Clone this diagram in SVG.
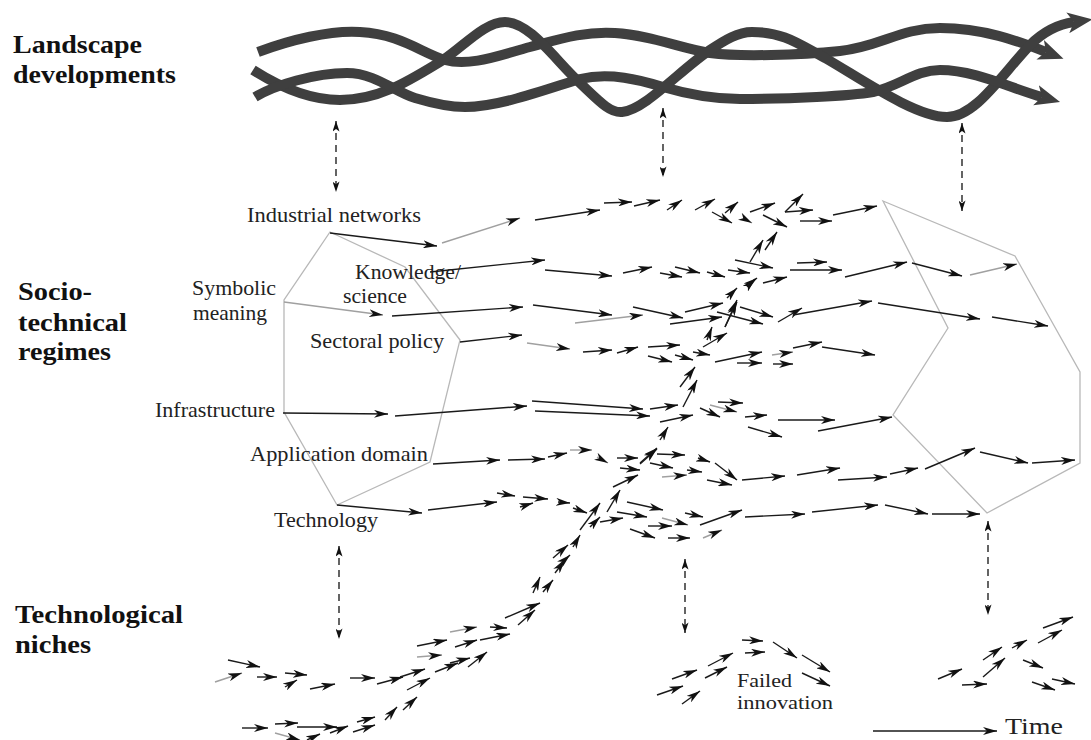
<svg xmlns="http://www.w3.org/2000/svg" width="1091" height="740" viewBox="0 0 1091 740">
<style>
.bold{font-family:'Liberation Serif',serif;font-weight:bold;font-size:26px;fill:#111}
.lab{font-family:'Liberation Serif',serif;font-size:21px;fill:#222}
.rope{fill:none;stroke:#3f3f3f;stroke-width:10;marker-end:url(#rh)}
.dash{fill:none;stroke:#111;stroke-width:1.3;stroke-dasharray:7 5;marker-start:url(#ds);marker-end:url(#ds)}
.hex{fill:none;stroke:#b8b8b8;stroke-width:1.3}
.k path{fill:none;stroke:#1a1a1a;stroke-width:1.4;marker-end:url(#ah)}
.k path.g{stroke:#a0a0a0}
</style>
<defs>
<marker id="rh" viewBox="0 0 12 10" refX="3" refY="5" markerWidth="2.5" markerHeight="2.1" markerUnits="strokeWidth" orient="auto"><path d="M0,0 L12,5 L0,10 L3,5 z" fill="#3f3f3f"/></marker>
<marker id="ah" viewBox="0 0 14 8" refX="14" refY="4" markerWidth="14" markerHeight="8" markerUnits="userSpaceOnUse" orient="auto"><path d="M0,0 L14,4 L0,8 L4,4 z" fill="#111"/></marker>
<marker id="ds" viewBox="0 0 12 8" refX="12" refY="4" markerWidth="12" markerHeight="7" markerUnits="userSpaceOnUse" orient="auto-start-reverse"><path d="M0,0 L12,4 L0,8 L3,4 z" fill="#111"/></marker>
</defs>
<rect width="1091" height="740" fill="#fff"/>

<g id="level-labels">
<text class="bold" x="13" y="53" textLength="129" lengthAdjust="spacingAndGlyphs">Landscape</text>
<text class="bold" x="13" y="83" textLength="163" lengthAdjust="spacingAndGlyphs">developments</text>
<text class="bold" x="18" y="300" textLength="74" lengthAdjust="spacingAndGlyphs">Socio-</text>
<text class="bold" x="18" y="331" textLength="109" lengthAdjust="spacingAndGlyphs">technical</text>
<text class="bold" x="18" y="360" textLength="93" lengthAdjust="spacingAndGlyphs">regimes</text>
<text class="bold" x="15" y="623" textLength="168" lengthAdjust="spacingAndGlyphs">Technological</text>
<text class="bold" x="15" y="653" textLength="76" lengthAdjust="spacingAndGlyphs">niches</text>
</g>

<g id="landscape">
<path class="rope" d="M258,52 C290,40 330,30 360,32 C400,34 420,52 445,60 C470,67 500,55 530,47 C560,39 585,31 615,33 C650,35 680,48 710,53 C740,57 800,55 840,51 C880,47 900,28 940,28 C985,28 1020,42 1046,52"/>
<path class="rope" d="M253,70 C275,84 305,100 340,100 C380,100 410,80 443,60 C465,45 485,22 505,22 C530,22 555,60 580,83 C600,102 610,113 622,112 C645,110 680,70 710,50 C725,40 738,32 752,32 C785,32 800,45 825,58 C860,78 915,117 947,117 C975,117 1000,77 1030,45 C1045,30 1060,24 1074,22"/>
<path class="rope" d="M255,97 C275,85 315,73 347,73 C375,73 395,92 415,98 C435,104 450,107 465,107 C500,107 550,88 580,79 C610,72 640,80 663,87 C690,95 715,99 740,99 C790,99 850,96 873,92 C900,86 915,70 940,70 C975,70 1010,88 1042,97"/>
</g>

<g id="regime-current">
<path class="hex" d="M330,232 L405,267 L460,340 L430,462 L337,505 L284,412 L284,300 Z"/>
<text class="lab" x="247" y="222" textLength="174" lengthAdjust="spacingAndGlyphs">Industrial networks</text>
<text class="lab" x="192" y="295" textLength="84" lengthAdjust="spacingAndGlyphs">Symbolic</text>
<text class="lab" x="193" y="320" textLength="74" lengthAdjust="spacingAndGlyphs">meaning</text>
<text class="lab" x="355" y="279" textLength="106" lengthAdjust="spacingAndGlyphs">Knowledge/</text>
<text class="lab" x="343" y="303" textLength="64" lengthAdjust="spacingAndGlyphs">science</text>
<text class="lab" x="310" y="348" textLength="134" lengthAdjust="spacingAndGlyphs">Sectoral policy</text>
<text class="lab" x="155" y="417" textLength="120" lengthAdjust="spacingAndGlyphs">Infrastructure</text>
<text class="lab" x="250" y="461" textLength="178" lengthAdjust="spacingAndGlyphs">Application domain</text>
<text class="lab" x="274" y="527" textLength="104" lengthAdjust="spacingAndGlyphs">Technology</text>
</g>

<g id="regime-new">
<path class="hex" d="M883,201 L1015,256 L1080,372 L1080,463 L987,513 L893,415 L948,328 Z"/>
</g>

<g id="failed-innovation">
<text class="lab" x="737" y="687" style="font-size:19.5px" textLength="55" lengthAdjust="spacingAndGlyphs">Failed</text>
<text class="lab" x="737" y="709" style="font-size:19.5px" textLength="96" lengthAdjust="spacingAndGlyphs">innovation</text>
</g>

<g id="time-axis">
<text class="lab" x="1005" y="734" style="font-size:24px" textLength="58" lengthAdjust="spacingAndGlyphs">Time</text>
</g>

<g id="connectors">
<g id="level-links">
<path class="dash" d="M336,121 L336,192"/>
<path class="dash" d="M663,108 L663,177"/>
<path class="dash" d="M962,123 L962,211"/>
<path class="dash" d="M339,546 L339,639"/>
<path class="dash" d="M685,559 L685,633"/>
<path class="dash" d="M988,521 L988,615"/>
</g>
<g class="k" id="trajectories">
<path d="M873,731 L997,731"/>
<path d="M330,233 L437,246"/>
<path class="g" d="M442,243 L520,218"/>
<path d="M535,220 L600,210"/>
<path d="M604,203 L632,202"/>
<path d="M634,206 L660,200"/>
<path d="M667,210 L682,200"/>
<path d="M695,210 L715,199"/>
<path d="M712,212 L732,223"/>
<path d="M725,213 L738,202"/>
<path class="g" d="M743,218 L752,223"/>
<path d="M750,212 L775,203"/>
<path d="M763,215 L787,227"/>
<path d="M785,212 L803,194"/>
<path d="M785,212 L813,210"/>
<path d="M800,221 L832,221"/>
<path d="M833,215 L877,206"/>
<path d="M430,272 L545,260"/>
<path d="M545,270 L612,276"/>
<path d="M623,273 L652,267"/>
<path d="M660,273 L682,277"/>
<path d="M675,267 L700,273"/>
<path d="M707,272 L725,277"/>
<path d="M728,270 L750,273"/>
<path d="M735,260 L773,268"/>
<path d="M747,287 L755,279"/>
<path d="M763,283 L787,277"/>
<path d="M790,270 L842,270"/>
<path d="M797,263 L827,262"/>
<path d="M845,277 L907,262"/>
<path d="M912,263 L962,276"/>
<path class="g" d="M970,275 L1017,264"/>
<path class="g" d="M284,302 L383,315"/>
<path d="M392,316 L523,307"/>
<path d="M533,305 L612,315"/>
<path class="g" d="M575,323 L643,315"/>
<path d="M633,307 L683,318"/>
<path d="M670,324 L722,317"/>
<path d="M685,312 L723,303"/>
<path d="M717,312 L763,324"/>
<path d="M740,307 L773,317"/>
<path d="M725,327 L737,302"/>
<path d="M778,322 L802,308"/>
<path d="M793,315 L872,301"/>
<path d="M878,303 L980,319"/>
<path d="M992,317 L1048,326"/>
<path d="M460,342 L522,335"/>
<path class="g" d="M527,343 L570,349"/>
<path d="M583,352 L612,350"/>
<path d="M617,353 L638,347"/>
<path d="M648,347 L680,345"/>
<path d="M648,356 L672,362"/>
<path d="M675,355 L693,360"/>
<path d="M693,352 L710,355"/>
<path d="M715,362 L762,352"/>
<path d="M737,363 L762,363"/>
<path d="M773,364 L793,364"/>
<path class="g" d="M772,355 L793,352"/>
<path d="M793,348 L822,342"/>
<path d="M822,347 L875,355"/>
<path d="M283,413 L388,414"/>
<path d="M395,416 L527,406"/>
<path d="M532,401 L643,409"/>
<path d="M535,411 L650,416"/>
<path d="M650,409 L678,405"/>
<path d="M660,422 L693,415"/>
<path d="M700,408 L720,417"/>
<path class="g" d="M710,405 L737,412"/>
<path d="M718,402 L743,403"/>
<path d="M745,417 L767,415"/>
<path d="M748,427 L782,437"/>
<path d="M778,420 L835,420"/>
<path d="M818,431 L892,417"/>
<path d="M433,464 L500,460"/>
<path d="M508,460 L545,459"/>
<path d="M548,457 L567,453"/>
<path class="g" d="M570,450 L592,450"/>
<path class="g" d="M597,457 L608,463"/>
<path d="M617,458 L638,458"/>
<path d="M620,468 L640,470"/>
<path d="M640,464 L657,449"/>
<path d="M657,454 L685,455"/>
<path d="M650,463 L673,468"/>
<path class="g" d="M662,477 L687,475"/>
<path d="M687,470 L702,472"/>
<path d="M698,458 L710,462"/>
<path d="M715,463 L737,480"/>
<path d="M707,480 L732,485"/>
<path d="M742,480 L785,476"/>
<path d="M797,475 L840,468"/>
<path d="M838,480 L887,477"/>
<path d="M890,474 L918,468"/>
<path d="M925,469 L975,448"/>
<path d="M980,452 L1028,463"/>
<path d="M1032,463 L1075,460"/>
<path d="M337,505 L422,513"/>
<path d="M428,510 L497,502"/>
<path d="M497,493 L515,496"/>
<path d="M523,497 L548,499"/>
<path d="M520,507 L533,503"/>
<path d="M558,502 L570,503"/>
<path d="M573,508 L587,513"/>
<path d="M627,502 L663,510"/>
<path d="M617,512 L647,517"/>
<path d="M600,522 L623,518"/>
<path d="M630,529 L655,538"/>
<path d="M648,526 L672,526"/>
<path class="g" d="M662,518 L688,525"/>
<path d="M685,513 L703,517"/>
<path d="M668,538 L690,538"/>
<path d="M700,525 L742,510"/>
<path class="g" d="M703,538 L722,530"/>
<path d="M745,517 L805,514"/>
<path d="M812,512 L878,505"/>
<path d="M885,505 L928,514"/>
<path d="M932,514 L980,514"/>
<path class="g" d="M215,682 L242,673"/>
<path d="M228,660 L260,667"/>
<path d="M257,677 L277,677"/>
<path d="M285,673 L307,675"/>
<path d="M285,687 L297,680"/>
<path d="M310,689 L335,684"/>
<path d="M350,678 L375,678"/>
<path d="M377,684 L403,677"/>
<path d="M400,677 L425,669"/>
<path d="M407,690 L430,678"/>
<path d="M417,646 L447,640"/>
<path class="g" d="M417,657 L442,655"/>
<path d="M435,672 L458,663"/>
<path d="M450,663 L470,658"/>
<path d="M455,647 L477,640"/>
<path class="g" d="M450,632 L477,627"/>
<path d="M468,667 L487,652"/>
<path d="M480,640 L510,634"/>
<path d="M490,627 L507,628"/>
<path d="M505,618 L540,603"/>
<path d="M518,625 L535,610"/>
<path d="M533,593 L540,577"/>
<path d="M543,592 L553,580"/>
<path d="M555,573 L565,560"/>
<path d="M242,728 L268,728"/>
<path d="M275,724 L298,723"/>
<path d="M297,727 L337,727"/>
<path class="g" d="M275,733 L300,740"/>
<path d="M307,740 L320,734"/>
<path d="M330,733 L348,726"/>
<path d="M357,722 L375,717"/>
<path d="M353,732 L375,725"/>
<path d="M385,720 L397,707"/>
<path d="M403,710 L417,697"/>
<path d="M553,558 L568,545"/>
<path d="M557,567 L570,555"/>
<path d="M573,547 L580,535"/>
<path d="M580,530 L600,503"/>
<path d="M590,527 L600,517"/>
<path d="M607,512 L620,490"/>
<path d="M613,487 L638,475"/>
<path d="M640,463 L657,448"/>
<path d="M660,440 L668,427"/>
<path d="M680,387 L695,367"/>
<path d="M683,407 L697,380"/>
<path d="M703,347 L727,333"/>
<path d="M707,340 L712,327"/>
<path d="M725,327 L737,300"/>
<path d="M727,298 L737,288"/>
<path d="M748,285 L757,278"/>
<path d="M750,262 L763,240"/>
<path d="M765,250 L777,232"/>
<path d="M657,695 L683,686"/>
<path d="M672,679 L697,670"/>
<path d="M682,704 L700,691"/>
<path d="M705,678 L727,667"/>
<path d="M708,666 L733,653"/>
<path d="M742,640 L763,641"/>
<path d="M745,653 L765,652"/>
<path d="M773,642 L797,658"/>
<path d="M802,655 L830,672"/>
<path d="M802,673 L830,686"/>
<path d="M938,679 L962,669"/>
<path d="M962,685 L987,684"/>
<path d="M983,660 L1002,647"/>
<path d="M983,677 L1005,658"/>
<path d="M1012,648 L1027,640"/>
<path d="M1023,660 L1043,668"/>
<path d="M1038,643 L1062,630"/>
<path d="M1043,628 L1073,617"/>
<path d="M1032,682 L1055,690"/>
<path d="M1052,679 L1075,684"/>
</g>
</g>
</svg>
